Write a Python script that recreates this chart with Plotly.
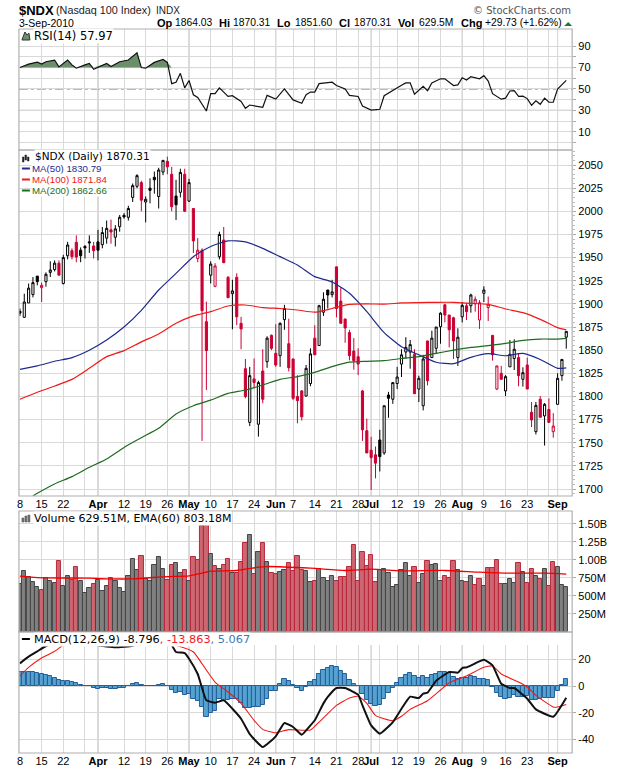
import plotly.graph_objects as go

# ---- categories: trading days ----
dates = ([f"Mar {d}" for d in (8,9,10,11,12,15,16,17,18,19,22,23,24,25,26,29,30,31)]
       + [f"Apr {d}" for d in (1,5,6,7,8,9,12,13,14,15,16,19,20,21,22,23,26,27,28,29,30)]
       + [f"May {d}" for d in (3,4,5,6,7,10,11,12,13,14,17,18,19,20,21,24,25,26,27,28)]
       + [f"Jun {d}" for d in (1,2,3,4,7,8,9,10,11,14,15,16,17,18,21,22,23,24,25,28,29,30)]
       + [f"Jul {d}" for d in (1,2,6,7,8,9,12,13,14,15,16,19,20,21,22,23,26,27,28,29,30)]
       + [f"Aug {d}" for d in (2,3,4,5,6,9,10,11,12,13,16,17,18,19,20,23,24,25,26,27,30,31)]
       + [f"Sep {d}" for d in (1,2,3)])

opens = [1892,1885.5,1901,1910,1930,1917.5,1924,1934,1937,1944,1922,1952,1957.5,1966.5,1958,1962,1967,1962.5,1967,1964,
         1971,1980,1972,1983.4,1995.6,1993.5,2015,2027,2031,2010,2025,2036.7,2016,2042.4,2054,2040,2016.5,2020.5,2040,2011,
         2003,1949,1958,1880.8,1931,1919,1951,1969,1928.7,1911,1928.7,1879,1830,1772,1819,1770,1827.5,1837.6,1866,1846.6,
         1844,1883,1857,1840.5,1800,1806,1800.5,1814,1863,1855,1891,1915,1910,1940,1903,1883.7,1869,1849,1843,1806,
         1763,1742,1737,1753,1739,1801.6,1797,1814,1835,1848,1848,1845.5,1808,1790,1860,1842,1852,1875.4,1899,1888,
         1885,1842,1886,1898,1898,1900,1882.6,1911.4,1896,1866,1808,1825,1806,1832,1841,1842,1818.5,1834,1783,1762,
         1797,1779,1786,1762,1791.5,1822.5,1864.03]
highs = [1895,1911,1922,1929,1930,1923,1934,1946,1947,1947,1953,1967,1960,1974,1961,1963.6,1974,1967,1980,1983,
         1990,1991,1985,1996,1998,2006,2030,2040,2033,2016,2035.6,2043,2047,2055,2059,2048,2034,2046,2046,2035,
         2003,1971,1960,1902.4,1946,1944,1978,1983,1930,1926,1933,1886,1840.5,1832,1841,1817,1851,1865,1867,1878,
         1880,1899,1884,1841,1823,1807,1834,1852,1877,1899,1912.5,1915,1926,1940,1918,1884,1872,1863,1852,1807,
         1776,1756.6,1746,1764,1790,1805,1815,1832,1851,1864,1861,1851,1822.5,1845,1860,1871,1875,1891,1900,1888,
         1886,1873.6,1902,1901,1911,1908,1904,1919,1908,1866,1833,1833,1823,1861,1861.7,1846.6,1831.5,1842,1794,1794,
         1800.5,1793,1798,1782,1825,1840,1870.31]
lows = [1887,1885,1901,1907,1920,1902,1918.6,1929,1935,1931,1921,1948,1948,1945,1945,1949,1955,1949,1947,1960,
        1965,1965,1962,1978,1992,1990,2010,2025,2000,1988,2008.6,2019,2003,2039,2040,2000,1990.6,2015,2000,2010,
        1955,1945,1752,1807,1922,1918,1948,1944,1906.7,1872.5,1877,1851,1798,1768,1809,1756.6,1792.6,1831,1850,1832,
        1832,1872,1827,1796,1771,1774,1800,1811,1845,1855,1887,1895,1907,1885.5,1879,1858,1839,1829,1823,1752,
        1739,1699,1711.6,1719,1737,1777,1792,1808,1821,1841,1830,1803,1794,1785,1812,1842,1846,1857,1880,1853,
        1840.5,1833,1880,1882.6,1890.5,1891.6,1873,1902,1881.5,1838.7,1807,1818.5,1800.5,1832,1828.6,1811,1810.6,1808,1767,1759,
        1777.5,1747,1772,1755.5,1791.5,1817,1851.60]
closes = [1890,1902,1917,1923,1924,1920,1932,1936.6,1944,1931,1950,1963.6,1951,1950.5,1952,1960.5,1966,1957.5,1958,1977,
          1981.6,1977.6,1981,1993.5,1994,2003,2027.7,2038.5,2012,2013,2022.6,2034,2044.6,2055,2048,2005,2007,2042,2000,2031,
          1968,1958,1892.7,1849.5,1943,1941,1975,1944.5,1906.7,1914,1886,1873,1800,1822.5,1815,1815,1797,1863,1852,1834,
          1879,1895,1831,1798,1795.5,1778,1830.4,1846,1845,1898,1905,1909.6,1913,1895,1879,1874,1844,1838.7,1835,1764,
          1739,1734,1728,1735,1790,1798,1815,1821,1845,1853,1856,1803,1819.6,1840.5,1817,1863,1875,1890,1888,1872,
          1860,1864,1898.4,1891.6,1909.6,1905,1901.3,1915,1899.5,1845,1833,1818.5,1821.4,1845.5,1851,1822.5,1825.7,1808,1774.6,1790.4,
          1777.5,1791.5,1772,1768,1819.6,1840,1870.31]

ma50 = [1829.3,1833,1838,1842,1850,1861,1875,1893,1915,1933,1951,1962,1968,1967,1960,1951,1942,
        1929.4,1923.6,1911.4,1891.6,1869,1853.8,1845,1837,1835.4,1842.3,1846.2,1844,1846.6,1840,1830.4,1830.79]
ma100 = [1797,1804.5,1811.3,1818.5,1830.4,1843,1849.5,1859,1867.5,1879,1887,1891.6,1897.7,1898.8,1896,1895,1893.4,
         1891,1895,1899.5,1900,1899.7,1901,1901.4,1901.7,1901.7,1900.6,1899.5,1894.5,1890.5,1883.3,1874.3,1871.84]
ma200 = [1692.5,1695.4,1705.5,1713.4,1723.5,1732.5,1745,1755.5,1765.6,1781,1790,1796,1803.4,1807,1812.4,1818.5,1821.4,
         1826,1832.2,1837,1838,1838.7,1841,1843,1846.6,1850,1853,1855,1857.4,1860.6,1862,1862,1862.66]

rsi_days = [0,2,4,5,6,8,9,11,12,13,15,16,17,19,20,21,23,25,27,28,29,31,33,34,35,36,37,38,39,40,41,43,44,45,46,48,49,51,52,53,
            56,57,59,61,63,65,66,67,68,69,72,73,75,76,78,79,81,83,84,88,89,90,91,93,94,95,97,98,100,101,102,103,104,106,107,
            108,109,111,112,113,114,115,116,117,118,119,120,121,122,123,124,126]
rsi_values = [70,73.2,75.1,73.2,75.4,77,70.6,77,72.5,69.4,72.5,73.8,68.4,72.5,73.8,71,75.4,77,83.7,70,69.4,74.8,77.6,74.8,55,56.3,64.6,51,57.9,44.6,42,29.4,45.6,45.6,51,43,43.7,38.3,31.9,35,
              32.9,44,40.5,50,39.8,36.7,44.6,47.1,47.1,55,56.3,53.2,50,44,43,34.1,30.3,31,43.7,53.5,55.7,55.7,45.2,52.5,48.4,55.7,59.5,59.5,53.2,53.8,60.5,58.3,61.4,59.5,62.4,
              57.3,45.6,40.5,41.4,48.1,48.4,43,43.3,41,34.8,38.9,35.7,41.4,37.6,37.6,50,57.97]

volume = [668,844,770,691,622,585,752,705,682,988,636,775,719,900,705,538,608,664,719,571,
          636,752,715,608,552,775,1012,858,1053,738,705,928,1039,872,724,928,956,817,858,705,
          1039,998,1471,1503,1081,919,868,928,1012,817,817,970,1230,1350,803,1109,1234,970,817,807,
          830,858,956,844,1053,858,844,691,710,877,747,710,780,710,761,761,900,1206,710,1109,
          919,1067,696,863,872,817,622,650,863,956,775,900,677,803,984,928,942,705,775,747,
          984,858,705,691,775,650,733,636,886,886,998,664,664,733,677,956,830,677,872,775,
          733,872,636,970,900,650,629.51]
ema_days = [0,4,16,20,26,34,39,42,44,50,55,57,67,75,81,88,98,106,113,121,126]
ema_values = [775,756,747,738,738,770,779,817,844,854,900,909,886,854,872,849,854,831,817,817,803.18]

macd_days = [0,2,4,6,8,12,16,18,22,26,28,32,35,36,38,39,41,43,45,47,49,51,53,56,59,61,63,65,67,68,70,71,73,75,78,79,81,83,86,88,90,
             92,93,94,96,99,101,102,103,105,107,109,111,113,114,117,119,123,126]
macd_values = [17,22,26,30,32,34,33,30.5,29,30.2,33,34,30.5,25.5,24.7,20.5,9,-10.7,-12.5,-10.7,-17,-24.5,-36,-45.7,-37.7,-27.7,-30.7,-36.5,-29.5,-25.7,-13,-8.2,-1.5,-1.5,-6.5,-14.5,-29.5,-35.7,-27,-17,-8,
               -9,-5.7,-5,4,10.5,10,13.5,14,17,19.7,15.5,1.7,-1.5,-1.5,-9.5,-17.5,-23,-8.796]
signal_days = [0,2,5,8,10,14,24,30,34,36,40,42,45,48,51,54,56,59,62,67,69,71,73,76,78,80,82,86,88,90,94,97,99,103,107,109,111,115,117,119,123,124,126]
signal_values = [7.5,14,21,26,30.5,33,34,33,32,30.5,25.5,16.7,3,-4.5,-13,-25.7,-32.5,-35,-32.7,-33,-27,-20.7,-14.5,-9,-7.7,-13,-22,-26,-22.7,-17.5,-11,-3,2.5,7.5,14,15,9,3,-0.7,-7,-15.7,-15.7,-13.863]
histogram = [10.5,10.7,10.7,10.5,10,9.25,8,7.2,6.2,4.7,4,3.7,3.2,2.2,0.7,0.25,-0.2,-1.2,-2,-1.2,
             -1.5,-2,-2,-1.2,-1.2,0,1.2,2,1,-0.2,-0.2,0,0.5,1.2,0.2,-3.2,-5.2,-4.5,-6.5,-6.2,
             -9.5,-11.2,-16,-23,-20,-19,-10,-11,-10.7,-10,-10,-12.7,-16.5,-16.5,-15.7,-15.7,-14.5,-9.5,-4,-4,
             1.7,5,3.7,0.5,-1.2,-3.7,-0.7,2.7,4.2,8.7,12.2,13.5,14.7,14.2,11,9.2,4.7,1.7,0,-5.7,
             -10.7,-13.2,-14.7,-14,-9.5,-5,-1.2,2.5,6,8.5,10,7.5,6,7.2,5.7,8,9.2,10.7,10.7,10,
             6.7,5,6,6.2,7.2,6.5,5.5,5.5,4.2,-0.7,-5,-8.2,-9.7,-8.7,-7,-8.2,-8.2,-7.7,-10.7,-10.7,
             -10,-9,-9,-9,-4,0.5,5.067]

tick_days = ["Mar 8","Mar 15","Mar 22","Mar 29","Apr 1","Apr 12","Apr 19","Apr 26","May 3","May 10","May 17","May 24","Jun 1","Jun 7",
             "Jun 14","Jun 21","Jun 28","Jul 1","Jul 6","Jul 12","Jul 19","Jul 26","Aug 2","Aug 9","Aug 16","Aug 23","Aug 30","Sep 1"]
tick_labels = ["8","15","22","","<b>Apr</b>","12","19","26","<b>May</b>","10","17","24","<b>Jun</b>","7",
               "14","21","28","<b>Jul</b>","","12","19","26","<b>Aug</b>","9","16","23","","<b>Sep</b>"]
month_days = ["Apr 1","May 3","Jun 1","Jul 1","Aug 2","Sep 1"]

# ---- page geometry (window pixels -> paper) ----
W, H = 620, 770
def px(x): return x / W
def py(y): return 1 - y / H

LEFT, RIGHT = 17, 572
RSI = (29, 150); PRICE = (150, 496); VOL = (511, 632); MACD = (645, 753); MACD_TOP = 632
XRANGE = [-0.23, 127.36]

ARIAL = "Liberation Sans"
DEJA = "DejaVu Sans"
RED = "#CC0033"

fig = go.Figure()
xa = lambda n: f"x{n}" if n > 1 else "x"

# RSI
fill_days = [d for d in rsi_days if d <= 36]
fill_vals = [max(v, 70) for d, v in zip(rsi_days, rsi_values) if d <= 36]
fig.add_trace(go.Scatter(x=[dates[d] for d in fill_days], y=[70]*len(fill_days), mode="lines",
                         line=dict(width=0), xaxis="x", yaxis="y", hoverinfo="skip"))
fig.add_trace(go.Scatter(x=[dates[d] for d in fill_days], y=fill_vals, mode="lines", line=dict(width=0),
                         fill="tonexty", fillcolor="#6B8E6B", xaxis="x", yaxis="y", hoverinfo="skip"))
fig.add_trace(go.Scatter(x=[dates[d] for d in rsi_days], y=rsi_values, mode="lines",
                         line=dict(color="#111111", width=1.2), xaxis="x", yaxis="y"))

# Price
black = [i for i in range(len(dates)) if i == 0 or closes[i] >= closes[i-1]]
red = [i for i in range(len(dates)) if i > 0 and closes[i] < closes[i-1]]
for idx, col in ((black, "#000000"), (red, RED)):
    fig.add_trace(go.Candlestick(
        x=[dates[i] for i in idx], open=[opens[i] for i in idx], high=[highs[i] for i in idx],
        low=[lows[i] for i in idx], close=[closes[i] for i in idx], whiskerwidth=0,
        increasing=dict(line=dict(color=col, width=1), fillcolor="white"),
        decreasing=dict(line=dict(color=col, width=1), fillcolor=col),
        xaxis="x2", yaxis="y2"))
ma_x = dates[::4] + [dates[-1]]
ma200_x = [dates[3]] + dates[4::4] + [dates[-1]]
for xs, vals, col in ((ma_x, ma50, "#1F2A8C"), (ma_x, ma100, "#F01818"), (ma200_x, ma200, "#1E6B1E")):
    fig.add_trace(go.Scatter(x=xs, y=vals, mode="lines", line=dict(color=col, width=1.2, shape="spline", smoothing=0.6),
                             xaxis="x2", yaxis="y2"))

# Volume
vcols = ["#808080" if (i == 0 or closes[i] >= closes[i-1]) else "#CC6670" for i in range(len(dates))]
vline = ["#444444" if (i == 0 or closes[i] >= closes[i-1]) else "#B8283C" for i in range(len(dates))]
fig.add_trace(go.Bar(x=dates, y=volume, width=0.98, marker=dict(color=vcols, line=dict(color=vline, width=1)),
                     xaxis="x3", yaxis="y3"))
fig.add_trace(go.Scatter(x=[dates[d] for d in ema_days], y=ema_values, mode="lines",
                         line=dict(color="#F00000", width=1.3, shape="spline", smoothing=0.6), xaxis="x3", yaxis="y3"))

# MACD
fig.add_trace(go.Bar(x=dates, y=histogram, width=0.98, marker=dict(color="#53A2D0", line=dict(color="#245E9A", width=1)),
                     xaxis="x4", yaxis="y4"))
fig.add_trace(go.Scatter(x=[dates[d] for d in signal_days], y=signal_values, mode="lines",
                         line=dict(color="#F01818", width=1.1, shape="spline", smoothing=0.5), xaxis="x4", yaxis="y4"))
fig.add_trace(go.Scatter(x=[dates[d] for d in macd_days], y=macd_values, mode="lines",
                         line=dict(color="#111111", width=2, shape="spline", smoothing=0.4), xaxis="x4", yaxis="y4"))

GRID = "#D9D9D9"
def xaxis(dom_anchor, show):
    return dict(domain=[px(LEFT), px(RIGHT)], type="category", categoryorder="array", categoryarray=dates,
                range=XRANGE, anchor=dom_anchor, tickmode="array", tickvals=tick_days,
                ticktext=tick_labels if show else [""] * len(tick_days), showgrid=True, gridcolor=GRID, gridwidth=1,
                ticks="", tickfont=dict(family=ARIAL, size=11, color="#000"), zeroline=False,
                showline=False, rangeslider=dict(visible=False), tickangle=0, ticklabelposition="outside",
                ticklen=0)
def yaxis(panel, rng, vals, text, dom_anchor, minor=None):
    a = dict(domain=[py(panel[1]), py(panel[0])], range=rng, anchor=dom_anchor, side="right",
             tickmode="array", tickvals=vals, ticktext=text, showgrid=True, gridcolor=GRID, gridwidth=1,
             ticks="outside", ticklen=3, tickcolor="#AAAAAA", tickfont=dict(family=ARIAL, size=11, color="#000"),
             zeroline=False, showline=False)
    if minor:
        a["minor"] = dict(dtick=minor, ticks="outside", ticklen=2, tickcolor="#BBBBBB", showgrid=False, tick0=0)
    return a

rsi_ticks = [90,80,70,60,50,40,30,20,10,0]
rsi_text = ["90","","70","","50","","30","","10",""]
price_ticks = [2050,2025,2000,1975,1950,1925,1900,1875,1850,1825,1800,1775,1750,1725,1700]
vol_ticks = [250,500,750,1000,1250,1500]
vol_text = ["250M","500M","750M","1.00B","1.25B","1.50B"]
macd_ticks = [20,0,-20,-40]

shapes = []
# month separators
for n in (1, 2, 3, 4):
    panel = {1: RSI, 2: PRICE, 3: VOL, 4: MACD}[n]
    for m in month_days:
        shapes.append(dict(type="line", layer="below", xref=xa(n), yref="paper", x0=m, x1=m,
                           y0=py(panel[1]), y1=py(panel[0]), line=dict(color="#B4B4B4", width=1)))
# RSI reference levels
for lv, dash in ((70, "solid"), (30, "solid"), (50, "dashdot")):
    shapes.append(dict(type="line", layer="below", xref="paper", yref="y", x0=px(LEFT), x1=px(RIGHT), y0=lv, y1=lv,
                       line=dict(color="#666666", width=1, dash=dash)))
# frames
for t, b in (RSI, PRICE, VOL, (MACD_TOP, MACD[1])):
    shapes.append(dict(type="rect", layer="above", xref="paper", yref="paper", x0=px(LEFT), x1=px(RIGHT),
                       y0=py(b), y1=py(t), line=dict(color="#B0B0B0", width=1.2)))
# legend keys
for y, col in ((168.5, "#1F2A8C"), (179.5, "#F01818"), (190.5, "#1E6B1E")):
    shapes.append(dict(type="line", layer="above", xref="paper", yref="paper", x0=px(20), x1=px(28), y0=py(y), y1=py(y),
                       line=dict(color=col, width=2)))
shapes.append(dict(type="line", layer="above", xref="paper", yref="paper", x0=px(20), x1=px(28), y0=py(639), y1=py(639),
                   line=dict(color="#000", width=2)))
shapes.append(dict(type="path", layer="above", xref="paper", yref="paper", fillcolor="#6B8E6B", line=dict(color="#333", width=1),
                   path=f"M {px(20)} {py(40)} L {px(23)} {py(32)} L {px(25)} {py(35)} L {px(27)} {py(33)} L {px(28)} {py(40)} Z"))
for x, t, b in ((20.5, 157, 162), (23, 155, 160), (25.5, 157, 161)):
    shapes.append(dict(type="rect", layer="above", xref="paper", yref="paper", x0=px(x), x1=px(x+1.6), y0=py(b), y1=py(t),
                       fillcolor="#222", line=dict(color="#222", width=0.5)))
for x, t in ((20, 518), (23, 516), (26, 515)):
    shapes.append(dict(type="rect", layer="above", xref="paper", yref="paper", x0=px(x), x1=px(x+2), y0=py(522), y1=py(t),
                       fillcolor="#777", line=dict(color="#444", width=0.5)))
# green up-arrow after the change figure
shapes.append(dict(type="path", layer="above", xref="paper", yref="paper", fillcolor="#1E7A32", line=dict(width=0),
                   path=f"M {px(564)} {py(26)} L {px(572)} {py(26)} L {px(568)} {py(22)} Z"))

def note(x, y, text, size, font=ARIAL, color="#000", anchor="left", bg=None):
    return dict(xref="paper", yref="paper", x=px(x), y=py(y), text=text, showarrow=False, xanchor=anchor, yanchor="middle",
                font=dict(family=font, size=size, color=color), bgcolor=bg, borderpad=0, align=anchor)

ann = [
    note(16, 10, "<b>$NDX</b>", 13),
    note(53, 10, "(Nasdaq 100 Index)", 10.8, color="#222"),
    note(153.5, 10, "INDX", 10, color="#222"),
    note(16, 23, "3-Sep-2010", 10.5),
    note(154, 23, "<b>Op</b>", 11), note(173, 23, "1864.03", 10.3),
    note(217, 23, "<b>Hi</b>", 11), note(231, 23, "1870.31", 10.3),
    note(275, 23, "<b>Lo</b>", 11), note(293, 23, "1851.60", 10.3),
    note(337, 23, "<b>Cl</b>", 11), note(352, 23, "1870.31", 10.3),
    note(396, 23, "<b>Vol</b>", 11), note(417, 23, "629.5M", 10.3),
    note(459, 23, "<b>Chg</b>", 11), note(484, 23, "+29.73 (+1.62%)", 10.3),
    note(572, 10, "© StockCharts.com", 10, font=DEJA, color="#555", anchor="right"),
    note(31.5, 36, "RSI(14) 57.97", 11.5, font=DEJA, bg="white"),
    note(32, 155.5, "$NDX (Daily) 1870.31", 10.5, font=DEJA, bg="white"),
    note(29, 168.5, "MA(50) 1830.79", 9.7, color="#1F2A8C", bg="white"),
    note(29, 179.5, "MA(100) 1871.84", 9.7, color="#F01818", bg="white"),
    note(29, 190.5, "MA(200) 1862.66", 9.7, color="#1E6B1E", bg="white"),
    note(31, 518, "Volume 629.51M, EMA(60) 803.18M", 11, font=DEJA, bg="white"),
    note(31.5, 639, "MACD(12,26,9) -8.796<span style='color:#F01818'>, -13.863</span><span style='color:#3A78B8'>, 5.067</span>", 11.3, font=DEJA, bg="white"),
]

fig.update_layout(
    width=W, height=H, margin=dict(l=0, r=0, t=0, b=0), paper_bgcolor="white", plot_bgcolor="white",
    showlegend=False, barmode="overlay", bargap=0, boxmode="overlay", hovermode=False,
    shapes=shapes, annotations=ann,
    xaxis=xaxis("y", False), xaxis2=xaxis("y2", True), xaxis3=xaxis("y3", False), xaxis4=xaxis("y4", True),
    yaxis=yaxis(RSI, [-7, 106], rsi_ticks, rsi_text, "x"),
    yaxis2=yaxis(PRICE, [1692.5, 2066.2], price_ticks, [str(v) for v in price_ticks], "x2", minor=5),
    yaxis3=yaxis(VOL, [0, 1680], vol_ticks, vol_text, "x3"),
    yaxis4=yaxis(MACD, [-50.2, 30.75], macd_ticks, [str(v) for v in macd_ticks], "x4"),
)
assert len(opens) == len(highs) == len(lows) == len(closes) == len(dates) == len(volume) == len(histogram)
assert len(rsi_days) == len(rsi_values) and len(macd_days) == len(macd_values) and len(signal_days) == len(signal_values)
assert len(ma50) == len(ma_x) == len(ma100) and len(ma200) == len(ma200_x)
fig.write_html("out.html", config={"displayModeBar": False},
               post_script="document.body.style.margin='0';document.documentElement.style.overflow='hidden';")
